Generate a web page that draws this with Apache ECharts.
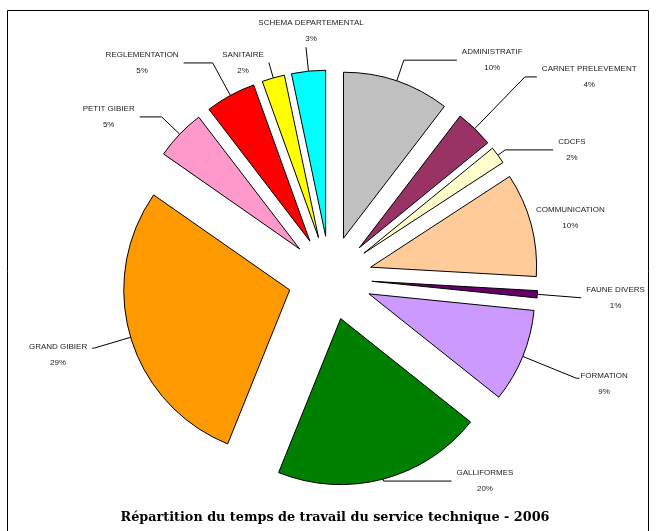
<!DOCTYPE html>
<html><head><meta charset="utf-8">
<script src="https://cdn.jsdelivr.net/npm/echarts@6/dist/echarts.min.js"></script>
<style>html,body{margin:0;padding:0;background:#fff}#c{width:662px;height:531px}</style>
</head><body><div id="c"></div>
<script>
const categories = ['ADMINISTRATIF','CARNET PRELEVEMENT','CDCFS','COMMUNICATION','FAUNE DIVERS','FORMATION','GALLIFORMES','GRAND GIBIER','PETIT GIBIER','REGLEMENTATION','SANITAIRE','SCHEMA DEPARTEMENTAL'];
const shares = [10.4, 3.7, 1.7, 10.1, 0.7, 9.1, 20.4, 28.6, 4.9, 4.9, 2.2, 3.3];
const colors = ['#C0C0C0','#993366','#FFFFCC','#FFCC99','#660066','#CC99FF','#008000','#FF9900','#FF99CC','#FF0000','#FFFF00','#00FFFF'];
const lineLen1 = [22, 72, 9, 0, 44, 58, 2, 38, 25, 37, 16, 24];
const lineLen2 = [53, 12, 48, 0, 0, 3, 68, 2, 22, 29, 0, 0];
const labelShift = [[0,0],[0,0],[0,0],[0,-7],[0,0],[-4,6],[0,0],[0,7],[0,0],[0,0],[0,0],[10,0]];
const titleText = 'Répartition du temps de travail du service technique - 2006';

const chart = echarts.init(document.getElementById('c'), null, {renderer: 'canvas'});
const data = categories.map((n, i) => ({
  name: n,
  value: shares[i],
  selected: true,
  itemStyle: {color: colors[i]},
  labelLine: {show: i !== 3, length: lineLen1[i], length2: lineLen2[i]}
}));
chart.setOption({
  animation: false,
  backgroundColor: '#fff',
  graphic: [
    {type: 'rect', shape: {x: 7.5, y: 10.5, width: 641, height: 540}, style: {fill: 'none', stroke: '#000', lineWidth: 1}, silent: true, z: -1},
    {type: 'text', style: {x: 335, y: 518, text: titleText, align: 'center', verticalAlign: 'middle', font: 'bold 12.8px "DejaVu Serif", serif', fill: '#000'}, silent: true}
  ],
  series: [{
    type: 'pie',
    center: [330, 278],
    radius: 166,
    startAngle: 90,
    clockwise: true,
    selectedMode: 'multiple',
    selectedOffset: 42,
    avoidLabelOverlap: false,
    percentPrecision: 0,
    emphasis: {disabled: true},
    itemStyle: {borderColor: '#000', borderWidth: 1},
    label: {
      position: 'outside',
      alignTo: 'none',
      distanceToLabelLine: 5,
      formatter: '{c|{b}}\n{c|{d}%}',
      rich: {c: {align: 'center', fontSize: 8, lineHeight: 16, color: '#222', fontFamily: '"Liberation Sans", Arial, sans-serif'}}
    },
    labelLine: {lineStyle: {color: '#000', width: 1}},
    labelLayout: function (p) {
      const s = labelShift[p.dataIndex];
      const o = {};
      if (p.dataIndex === 11) { o.align = 'center'; o.verticalAlign = 'bottom'; }
      if (s[0]) o.dx = s[0];
      if (s[1]) o.dy = s[1];
      return o;
    },
    data: data
  }]
});
</script></body></html>
